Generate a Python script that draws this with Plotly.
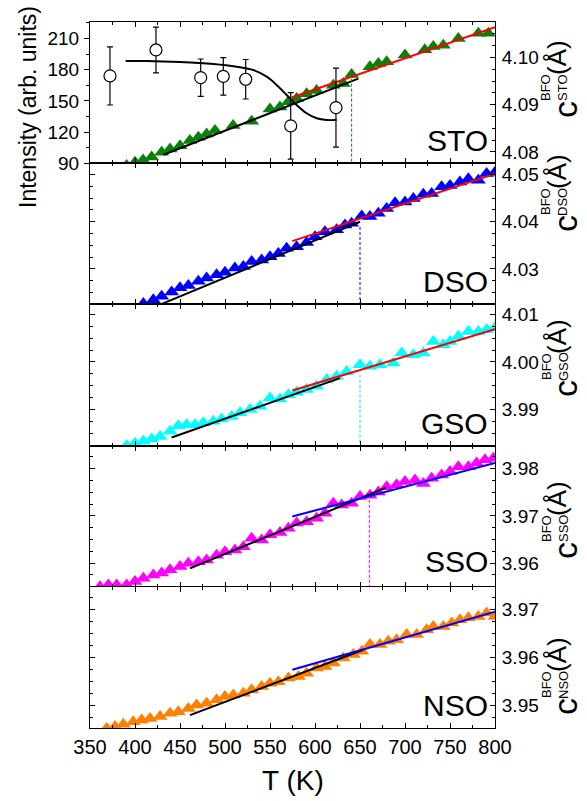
import plotly.graph_objects as go

# ---------------- data ----------------
T_STO = [390.7, 400, 409, 418.5, 429.6, 438.9, 450, 461, 470.4, 479.6, 488.9, 509, 529.6, 550, 561, 570.4,
         579.6, 590.7, 601.8, 620.4, 631.5, 640.7, 661, 670.4, 679.6, 700, 722, 731.5, 742.6, 759.3, 781.5, 792.6]
c_STO = [4.0771, 4.0778, 4.0783, 4.0789, 4.0799, 4.0806, 4.0813, 4.0824, 4.0831, 4.0838, 4.0845, 4.0856, 4.0865,
         4.0891, 4.0895, 4.0906, 4.0913, 4.0923, 4.0930, 4.0941, 4.0945, 4.0964, 4.0980, 4.0987, 4.0991, 4.1005,
         4.1016, 4.1023, 4.1026, 4.1040, 4.1051, 4.1051]
fitLow_STO_T = [431.5, 648.1]
fitLow_STO_c = [4.0794, 4.0955]
fitHigh_STO_T = [574, 800]
fitHigh_STO_c = [4.0915, 4.1064]
Tc_STO = 640.7
TcTop_STO = 4.0955

T_int = [372.2, 423.3, 473, 498.1, 523, 573, 623.3]
intensity = [174, 199, 172.3, 173.6, 170.8, 125.9, 143.5]
int_err = [28, 22, 18, 18, 19, 32, 38]
sig_T = [389.6, 413, 450, 487, 513, 531.5, 546.3, 557.4, 568.5, 579.6, 590.7, 601.8, 613, 624]
sig_I = [188.4, 188.4, 187.4, 185.5, 182.9, 179.7, 173.3, 165.3, 155.7, 146.1, 138.1, 133.3, 131.6, 131.6]

T_DSO = [409.3, 420.4, 429.6, 440.7, 450, 459.3, 470.4, 479.6, 490.7, 500, 511, 520.4, 529.6, 540.7, 550, 559.3,
         568.5, 579.6, 590.7, 600, 611, 624, 633.3, 640.7, 651.9, 661, 670.4, 679.6, 689, 700, 709.3, 720.4,
         729.6, 740.7, 750, 761, 770.4, 781.5, 790.7, 800]
c_DSO = [4.0227, 4.0235, 4.0242, 4.0251, 4.0260, 4.0265, 4.0274, 4.0281, 4.0288, 4.0293, 4.0302, 4.0305, 4.0316,
         4.0319, 4.0326, 4.0333, 4.0344, 4.0347, 4.0356, 4.0368, 4.0379, 4.0383, 4.0393, 4.0397, 4.0412, 4.0411,
         4.0418, 4.0428, 4.0440, 4.0442, 4.0449, 4.0458, 4.0460, 4.0474, 4.0477, 4.0484, 4.0491, 4.0488, 4.0502,
         4.0505]
fitLow_DSO_T = [425.9, 650]
fitLow_DSO_c = [4.0223, 4.0400]
fitHigh_DSO_T = [574.8, 800]
fitHigh_DSO_c = [4.0359, 4.0502]
Tc_DSO = 650
TcTop_DSO = 4.0389

T_GSO = [390.7, 400, 409.3, 418.5, 427.8, 438.9, 448.1, 457.4, 466.7, 475.9, 487, 496.3, 507.4, 516.7, 527.8,
         538.9, 550, 561.1, 570.4, 579.6, 590.7, 601.8, 613, 624, 635.2, 650, 661, 672.2, 687, 696.3, 709.3,
         720.4, 731.5, 742.6, 750, 759.3, 770.4, 781.5, 790.7, 800]
c_GSO = [3.9824, 3.9829, 3.9833, 3.9838, 3.9843, 3.9854, 3.9866, 3.9868, 3.9868, 3.9872, 3.9875, 3.9880, 3.9885,
         3.9893, 3.9900, 3.9907, 3.9924, 3.9922, 3.9931, 3.9936, 3.9942, 3.9949, 3.9963, 3.9970, 3.9980, 3.9994,
         3.9991, 3.9994, 3.9998, 4.0019, 4.0015, 4.0019, 4.0043, 4.0036, 4.0043, 4.0054, 4.0064, 4.0064, 4.0068,
         4.0072]
fitLow_GSO_T = [440.7, 627.8]
fitLow_GSO_c = [3.9841, 3.9966]
fitHigh_GSO_T = [574.8, 800]
fitHigh_GSO_c = [3.9940, 4.0069]
Tc_GSO = 650
TcTop_GSO = 3.9973

T_SSO = [361.1, 370.4, 379.6, 390.7, 400, 409.3, 420.4, 429.6, 438.9, 450, 459.3, 470.4, 479.6, 490.7, 500,
         511.1, 520.4, 529.6, 540.7, 550, 561.1, 570.4, 579.6, 590.7, 601.8, 611.1, 620.4, 629.6, 640.7, 650,
         661.1, 670.4, 679.6, 690.7, 700, 711.1, 720.4, 729.6, 740.7, 750, 759.3, 770.4, 779.6, 788.9, 798.1]
c_SSO = [3.9550, 3.9554, 3.9554, 3.9554, 3.9561, 3.9568, 3.9575, 3.9579, 3.9586, 3.9593, 3.9600, 3.9603, 3.9607,
         3.9617, 3.9624, 3.9628, 3.9635, 3.9653, 3.9649, 3.9660, 3.9665, 3.9674, 3.9685, 3.9688, 3.9695, 3.9706,
         3.9727, 3.9723, 3.9727, 3.9741, 3.9744, 3.9751, 3.9762, 3.9766, 3.9773, 3.9776, 3.9769, 3.9780, 3.9787,
         3.9794, 3.9804, 3.9804, 3.9812, 3.9819, 3.9822]
fitLow_SSO_T = [461.1, 678.9]
fitLow_SSO_c = [3.9589, 3.9760]
fitHigh_SSO_T = [574.8, 800]
fitHigh_SSO_c = [3.9699, 3.9812]
Tc_SSO = 660.4
TcTop_SSO = 3.9734

T_NSO = [368.5, 377.8, 387, 398.1, 407.4, 416.7, 427.8, 438.9, 448.1, 459.3, 468.5, 479.6, 490.7, 500, 509.3,
         520.4, 529.6, 540.7, 550, 559.3, 570.4, 581.5, 590.7, 601.8, 611.1, 620.4, 631.5, 642.6, 651.9, 661.1,
         672.2, 681.5, 690.7, 701.9, 713, 724.1, 731.5, 742.6, 751.9, 761.1, 770.4, 781.5, 790.7, 800]
c_NSO = [3.9451, 3.9455, 3.9460, 3.9465, 3.9469, 3.9472, 3.9476, 3.9483, 3.9486, 3.9493, 3.9500, 3.9504, 3.9511,
         3.9518, 3.9521, 3.9525, 3.9532, 3.9539, 3.9546, 3.9549, 3.9557, 3.9560, 3.9567, 3.9578, 3.9581, 3.9588,
         3.9599, 3.9606, 3.9613, 3.9627, 3.9627, 3.9634, 3.9637, 3.9648, 3.9648, 3.9658, 3.9665, 3.9665, 3.9672,
         3.9679, 3.9683, 3.9686, 3.9693, 3.9686]
fitLow_NSO_T = [461.1, 653.7]
fitLow_NSO_c = [3.9479, 3.9616]
fitHigh_NSO_T = [574.8, 800]
fitHigh_NSO_c = [3.9574, 3.9696]

names = ["STO", "DSO", "GSO", "SSO", "NSO"]
colors = ["#0A800A", "#0000FF", "#00FFFF", "#FF00FF", "#FF8000"]
high_colors = ["#FF0000", "#FF0000", "#FF0000", "#0000FF", "#0000FF"]
c_ranges = [[4.0776, 4.1075], [4.0225, 4.0524], [3.9824, 4.0121], [3.9550, 3.9849], [3.9452, 3.9748]]
int_range = [90, 225.9]
x_range = [350, 800]
x_ticks = [350, 400, 450, 500, 550, 600, 650, 700, 750, 800]

panels = [
    (T_STO, c_STO, fitLow_STO_T, fitLow_STO_c, fitHigh_STO_T, fitHigh_STO_c, Tc_STO, TcTop_STO),
    (T_DSO, c_DSO, fitLow_DSO_T, fitLow_DSO_c, fitHigh_DSO_T, fitHigh_DSO_c, Tc_DSO, TcTop_DSO),
    (T_GSO, c_GSO, fitLow_GSO_T, fitLow_GSO_c, fitHigh_GSO_T, fitHigh_GSO_c, Tc_GSO, TcTop_GSO),
    (T_SSO, c_SSO, fitLow_SSO_T, fitLow_SSO_c, fitHigh_SSO_T, fitHigh_SSO_c, Tc_SSO, TcTop_SSO),
    (T_NSO, c_NSO, fitLow_NSO_T, fitLow_NSO_c, fitHigh_NSO_T, fitHigh_NSO_c, None, None),
]

# ---------------- figure ----------------
W, H = 587, 801
ML, MR, MT, MB = 90, 92, 22, 73
PW, PH = W - ML - MR, H - MT - MB
FONT = "Liberation Sans, Arial, sans-serif"


def xp(px):
    return (px - ML) / PW


def yp(py):
    return (H - MB - py) / PH


fig = go.Figure()

for i, (T, c, lT, lc, hT, hc, Tc, TcTop) in enumerate(panels):
    k = "" if i == 0 else str(i + 1)
    xa, ya = "x" + k, "y" + k
    fig.add_trace(go.Scatter(x=T, y=c, mode="markers", xaxis=xa, yaxis=ya,
                             marker=dict(symbol="triangle-up", size=13, color=colors[i], line=dict(width=0)),
                             showlegend=False, cliponaxis=True))
    fig.add_trace(go.Scatter(x=lT, y=lc, mode="lines", xaxis=xa, yaxis=ya,
                             line=dict(color="black", width=2), showlegend=False))
    fig.add_trace(go.Scatter(x=hT, y=hc, mode="lines", xaxis=xa, yaxis=ya,
                             line=dict(color=high_colors[i], width=2), showlegend=False))
    if Tc is not None:
        fig.add_trace(go.Scatter(x=[Tc, Tc], y=[TcTop, c_ranges[i][0]], mode="lines", xaxis=xa, yaxis=ya,
                                 line=dict(color=colors[i] if i != 2 else "#00E5E5", width=1, dash="3px,2px"),
                                 showlegend=False))

# intensity (left axis of top panel)
fig.add_trace(go.Scatter(x=sig_T, y=sig_I, mode="lines", xaxis="x", yaxis="y6",
                         line=dict(color="black", width=2, shape="spline"), showlegend=False))
fig.add_trace(go.Scatter(x=T_int, y=intensity, mode="markers", xaxis="x", yaxis="y6",
                         marker=dict(symbol="circle", size=12, color="white", line=dict(color="black", width=1.2)),
                         error_y=dict(type="data", array=int_err, color="black", thickness=1.2, width=3),
                         showlegend=False))

layout = dict(width=W, height=H, margin=dict(l=ML, r=MR, t=MT, b=MB),
              paper_bgcolor="white", plot_bgcolor="white",
              font=dict(family=FONT, size=19, color="black"), showlegend=False)

for i in range(5):
    k = "" if i == 0 else str(i + 1)
    top = 1 - 0.2 * i
    bot = top - 0.2
    layout["xaxis" + k] = dict(domain=[0, 1], range=x_range, anchor="y" + k, showline=True, linecolor="black",
                               linewidth=1, mirror="ticks", ticks="inside", ticklen=5, tickcolor="black",
                               tickvals=x_ticks, showticklabels=(i == 4), showgrid=False, zeroline=False,
                               minor=dict(dtick=25, tick0=350, ticks="inside", ticklen=3, tickcolor="black"),
                               tickfont=dict(size=20), ticklabelstandoff=1)
    if i > 0:
        layout["xaxis" + k]["matches"] = "x"
    layout["yaxis" + k] = dict(domain=[max(bot, 0), min(top, 1)], range=c_ranges[i], anchor="x" + k, side="right",
                               showline=True, linecolor="black", linewidth=1,
                               mirror=("ticks" if i > 0 else False),
                               ticks="inside", ticklen=5, tickcolor="black", dtick=0.01, tickformat=".2f",
                               minor=dict(dtick=0.0025, ticks="inside", ticklen=3, tickcolor="black"),
                               showgrid=False, zeroline=False, tickfont=dict(size=19), ticklabelstandoff=2)

layout["yaxis6"] = dict(overlaying="y", anchor="x", side="left", range=int_range, dtick=30, tick0=90,
                        showline=True, linecolor="black", linewidth=1, ticks="outside", ticklen=5,
                        tickcolor="black", minor=dict(dtick=15, tick0=90, ticks="outside", ticklen=3,
                                                      tickcolor="black"),
                        showgrid=False, zeroline=False, tickfont=dict(size=19), ticklabelstandoff=1)

fig.update_layout(**layout)

ann = []
# panel names
name_bottoms = [158, 299, 441, 579, 723]
for i, nm in enumerate(names):
    ann.append(dict(text=nm, xref="paper", yref="paper", x=xp(489), y=yp(name_bottoms[i]),
                    xanchor="right", yanchor="bottom", showarrow=False, font=dict(size=30, family=FONT),
                    borderpad=0))

# right axis titles  (c^BFO_sub (Å), rotated)
c_centers = [110, 224, 389, 551, 707]
for i, nm in enumerate(names):
    y0 = c_centers[i]
    ann.append(dict(text="c", xref="paper", yref="paper", x=xp(565), y=yp(y0), textangle=-90,
                    xanchor="center", yanchor="middle", showarrow=False, font=dict(size=34, family=FONT)))
    ann.append(dict(text="BFO", xref="paper", yref="paper", x=xp(546), y=yp(y0 - 22), textangle=-90,
                    xanchor="center", yanchor="middle", showarrow=False, font=dict(size=13, family=FONT)))
    ann.append(dict(text=nm, xref="paper", yref="paper", x=xp(563), y=yp(y0 - 22), textangle=-90,
                    xanchor="center", yanchor="middle", showarrow=False, font=dict(size=13, family=FONT)))
    ann.append(dict(text="(Å)", xref="paper", yref="paper", x=xp(557), y=yp(y0 - 52), textangle=-90,
                    xanchor="center", yanchor="middle", showarrow=False, font=dict(size=26, family=FONT)))

ann.append(dict(text="Intensity (arb. units)", xref="paper", yref="paper", x=xp(28), y=yp(107), textangle=-90,
                xanchor="center", yanchor="middle", showarrow=False, font=dict(size=23, family=FONT)))
ann.append(dict(text="T (K)", xref="paper", yref="paper", x=xp(293), y=yp(780),
                xanchor="center", yanchor="middle", showarrow=False, font=dict(size=28, family=FONT)))

fig.update_layout(annotations=ann)
fig.write_html("out.html", config={"displayModeBar": False},
               post_script="document.body.style.margin='0';document.body.style.padding='0';"
                           "document.body.style.overflow='hidden';")
